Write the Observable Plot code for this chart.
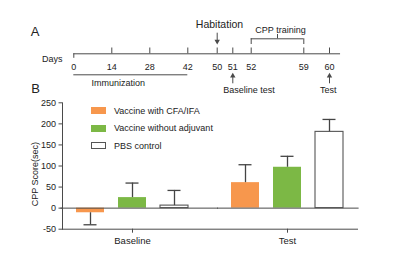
<!DOCTYPE html>
<html><head><meta charset="utf-8">
<script src="https://cdn.jsdelivr.net/npm/d3@7"></script>
<script src="https://cdn.jsdelivr.net/npm/@observablehq/plot@0.6"></script>
<style>
html,body{margin:0;padding:0;background:#fff;}
#chart{position:relative;width:409px;height:253px;font-family:"Liberation Sans",Arial,sans-serif;}
#chart svg{display:block;}
#legend{position:absolute;left:90.7px;top:102.1px;font-size:9px;color:#222;}
#legend .row{display:flex;align-items:center;height:17.4px;}
#legend .sw{width:15px;height:7px;margin-right:8.3px;box-sizing:border-box;}
</style></head><body><div id="chart"></div>
<script>
// ---- Panel A: timeline data ----
const days = [0, 14, 28, 42, 50, 51, 52, 59, 60];
const timelineBreaks = [0, 42, 50, 51, 52, 59, 60];
const timelineEnd = 60.43;
const immunizationDays = [0, 42];
const cppTrainingDays = [52, 59];
const habitationDay = [50];
const testEventDays = [51, 60];
const testEventLabels = ["Baseline test", "Test"];

// ---- Panel B: bar data ----
const groups = ["Baseline", "Test"];
const series = ["Vaccine with CFA/IFA", "Vaccine without adjuvant", "PBS control"];
const baselineMeans = [-11, 25, 6];
const baselineErrors = [28.5, 34.5, 36];
const testMeans = [60.5, 97, 181];
const testErrors = [42.5, 26, 29.5];
const seriesColors = ["#F7974D", "#7CB845", "#FFFFFF"];
const yTicks = [-50, 0, 50, 100, 150, 200, 250];

const FONT = '"Liberation Sans", Arial, sans-serif';
const ink = "#222";
const axisInk = "#4a4a4a";
const errInk = "#444";

const panelA = Plot.plot({
  width: 409, height: 95, margin: 0,
  style: {fontFamily: FONT, fontSize: "9px", color: ink, background: "white", overflow: "visible"},
  x: {type: "linear", domain: timelineBreaks, range: [73.3, 187.3, 216.7, 232.3, 250.7, 303.3, 329], axis: null},
  y: {domain: [0, 10], range: [53.3, 43.3], axis: null},
  marks: [
    Plot.text(["A"], {text: d => d, frameAnchor: "top-left", textAnchor: "middle", lineAnchor: "middle", dx: 34.5, dy: 31.2, fontSize: 13}),
    Plot.text(["B"], {text: d => d, frameAnchor: "top-left", textAnchor: "middle", lineAnchor: "middle", dx: 35, dy: 88.7, fontSize: 13}),
    Plot.text(["Days"], {text: d => d, x: () => days[0], y: () => 0, textAnchor: "end", dx: -11.3, dy: 5}),
    Plot.ruleY([0], {x1: days[0], x2: timelineEnd, stroke: axisInk}),
    Plot.ruleX(days.slice(1), {x: d => d, y1: 0, y2: 5.8, stroke: axisInk}),
    Plot.ruleX(days.slice(0, 1), {x: d => d, y1: 0, y2: -4.5, stroke: axisInk}),
    Plot.text(days, {x: d => d, y: () => 0, text: d => String(d), dy: 13.2}),
    // immunization
    Plot.ruleY([0], {x1: immunizationDays[0], x2: immunizationDays[1], dy: 21, stroke: axisInk}),
    Plot.text(["Immunization"], {text: d => d, x: () => d3.mean(immunizationDays), y: () => 0, dx: -12.5, dy: 29.4}),
    // CPP training bracket
    Plot.ruleY([15], {x1: cppTrainingDays[0], x2: cppTrainingDays[1], stroke: axisInk}),
    Plot.ruleX(cppTrainingDays, {x: d => d, y1: 9.3, y2: 15, stroke: axisInk}),
    Plot.ruleX([d3.mean(cppTrainingDays)], {x: d => d, y1: 15, y2: 19.3, stroke: axisInk}),
    Plot.text(["CPP training"], {text: d => d, x: () => d3.mean(cppTrainingDays), y: () => 0, dx: 3, dy: -23.3}),
    // habitation
    Plot.text(["Habitation"], {text: d => d, x: () => habitationDay[0], y: () => 0, dx: 2.3, dy: -29.3, fontSize: 10.5}),
    Plot.ruleX(habitationDay, {x: d => d, y1: 20.6, y2: 12.4, stroke: axisInk}),
    Plot.dot(habitationDay, {x: d => d, y: 12.4, symbol: "triangle", r: 2, rotate: 180, fill: axisInk, stroke: null}),
    // test events
    Plot.ruleX(testEventDays, {x: d => d, y1: -30, y2: -22.1, stroke: axisInk}),
    Plot.dot(testEventDays, {x: d => d, y: -22.1, symbol: "triangle", r: 2, fill: axisInk, stroke: null}),
    Plot.text(testEventDays, {x: d => d, y: () => 0, text: (d, i) => testEventLabels[i], textAnchor: "start", dx: -9.5, dy: 36})
  ]
});

const barData = [];
groups.forEach((g, gi) => {
  const means = gi === 0 ? baselineMeans : testMeans;
  const errs = gi === 0 ? baselineErrors : testErrors;
  series.forEach((s, si) => barData.push({
    group: g, series: s, value: means[si],
    end: means[si] + (means[si] < 0 ? -errs[si] : errs[si])
  }));
});

const panelB = Plot.plot({
  width: 409, height: 158,
  marginLeft: 60, marginRight: 50.7, marginTop: 7.3, marginBottom: 24.3,
  style: {fontFamily: FONT, fontSize: "9px", color: ink, background: "white", overflow: "visible"},
  fx: {domain: groups, paddingInner: 0.1, paddingOuter: 0.01, axis: null, label: null},
  x: {domain: series, paddingInner: 0.336, paddingOuter: 0.311, axis: null},
  y: {domain: [-50, 250], axis: null},
  color: {domain: series, range: seriesColors},
  marks: [
    Plot.barY(barData, {fx: "group", x: "series", y1: 0, y2: "value", fill: "series"}),
    Plot.barY(barData.filter(d => d.series === series[2]), {fx: "group", x: "series", y1: 0, y2: "value", fill: "white", stroke: "#555", strokeWidth: 1.1}),
    Plot.ruleY(groups.slice(0, 1), {fx: d => d, y: () => 0, stroke: axisInk, insetLeft: -1.6, insetRight: -16}),
    Plot.ruleY(groups.slice(1), {fx: d => d, y: () => 0, stroke: axisInk, insetRight: -1.6}),
    Plot.ruleX(barData, {fx: "group", x: "series", y1: "value", y2: "end", stroke: errInk, strokeWidth: 1.3}),
    Plot.tickY(barData, {fx: "group", x: "series", y: "end", stroke: errInk, strokeWidth: 1.3, inset: 7.5}),
    Plot.frame({anchor: "left", facet: "super", stroke: axisInk}),
    Plot.frame({anchor: "bottom", facet: "super", stroke: axisInk}),
    Plot.axisY({ticks: yTicks, tickFormat: d => String(d), tickSize: 3.5, tickPadding: 3, label: null, fontSize: 9, stroke: axisInk}),
    Plot.axisFx({anchor: "bottom", tickSize: 4, tickPadding: 4.5, label: null, fontSize: 9.5, stroke: axisInk}),
    Plot.text(["CPP Score(sec)"], {text: d => d, frameAnchor: "left", textAnchor: "middle", lineAnchor: "middle", rotate: -90, dx: -27, dy: 8.2, fontSize: 9, facet: "super"})
  ]
});

const chart = document.getElementById("chart");
chart.appendChild(panelA);
chart.appendChild(panelB);

const legend = document.createElement("div");
legend.id = "legend";
series.forEach((s, i) => {
  const row = document.createElement("div");
  row.className = "row";
  const sw = document.createElement("span");
  sw.className = "sw";
  sw.style.background = seriesColors[i];
  if (seriesColors[i].toUpperCase() === "#FFFFFF") sw.style.border = "1px solid #555";
  const label = document.createElement("span");
  label.textContent = s;
  row.appendChild(sw);
  row.appendChild(label);
  legend.appendChild(row);
});
chart.appendChild(legend);
</script></body></html>
